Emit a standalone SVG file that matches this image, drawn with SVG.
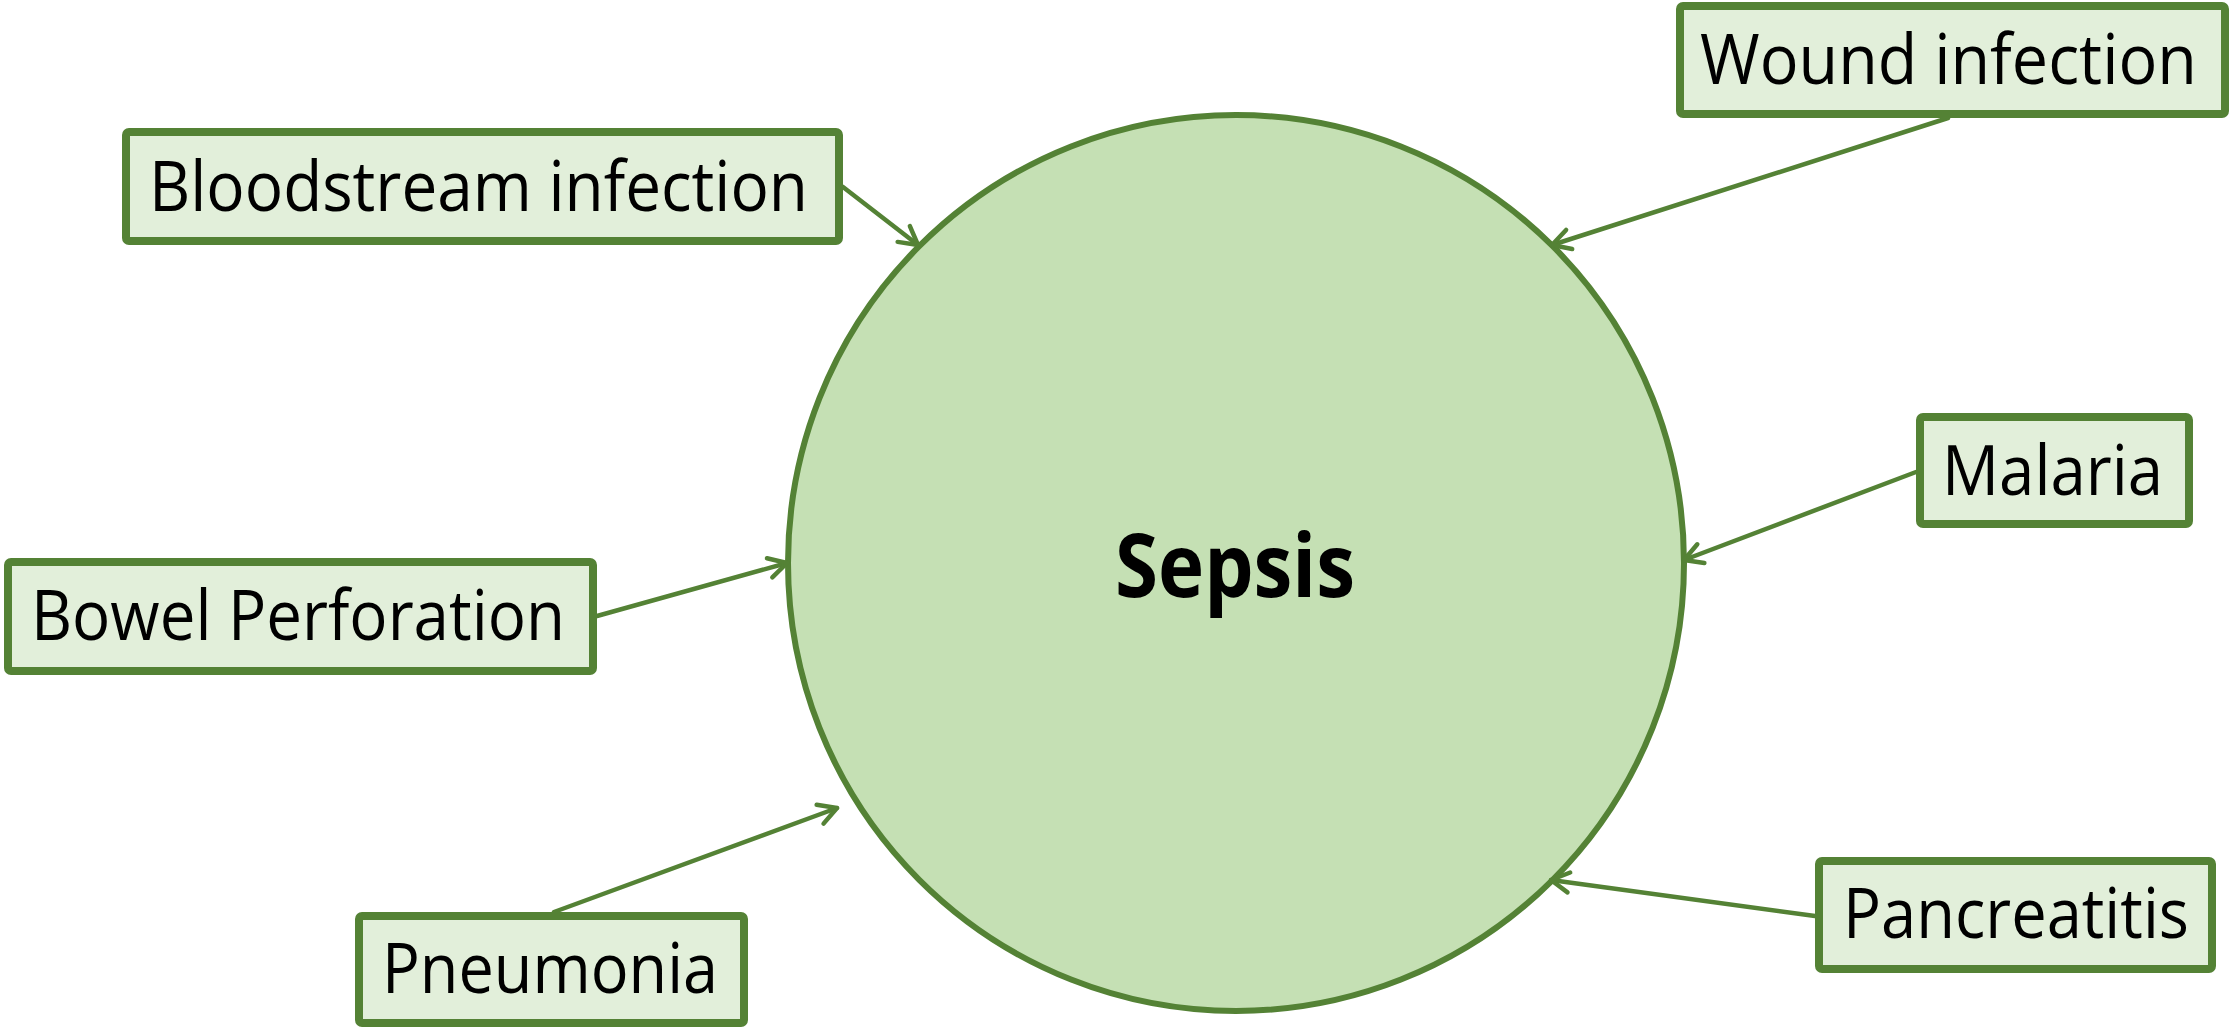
<svg xmlns="http://www.w3.org/2000/svg" width="2231" height="1028" viewBox="0 0 2231 1028">
<style>
.box{fill:#E2EFDA;stroke:#548235;stroke-width:8}
.lbl{font-family:"Open Sans","Noto Sans",sans-serif;font-size:70px;fill:#000}
.conn{stroke:#548235;stroke-width:4.5;fill:none;stroke-linecap:round}
.hub{fill:#C5E0B4;stroke:#548235;stroke-width:6}
.hubtxt{font-family:"Open Sans","Noto Sans",sans-serif;font-size:88px;font-weight:bold;fill:#000}
</style>
<defs>
<marker id="arr" markerUnits="userSpaceOnUse" markerWidth="26" markerHeight="26" refX="21" refY="12" orient="auto" overflow="visible">
<path d="M3,2 L21,12 L3,22" fill="none" stroke="#548235" stroke-width="4.5" stroke-linecap="round" stroke-linejoin="round"/>
</marker>
</defs>
<rect width="2231" height="1028" fill="#fff"/>
<g id="sepsis">
<circle class="hub" cx="1236" cy="563" r="448"/>
<text class="hubtxt" x="1115" y="597" textLength="240" lengthAdjust="spacingAndGlyphs">Sepsis</text>
</g>
<g id="connectors">
<line class="conn" x1="843" y1="187" x2="918" y2="245" marker-end="url(#arr)"/>
<line class="conn" x1="1948" y1="118" x2="1552" y2="245" marker-end="url(#arr)"/>
<line class="conn" x1="1916" y1="472" x2="1684" y2="560" marker-end="url(#arr)"/>
<line class="conn" x1="597" y1="616" x2="787" y2="563" marker-end="url(#arr)"/>
<line class="conn" x1="554" y1="912" x2="837" y2="808" marker-end="url(#arr)"/>
<line class="conn" x1="1815" y1="916" x2="1551" y2="880" marker-end="url(#arr)"/>
</g>
<g id="bloodstream">
<rect class="box" x="126" y="132" width="713" height="109" rx="3"/>
<text class="lbl" x="149" y="211" textLength="659" lengthAdjust="spacingAndGlyphs">Bloodstream infection</text>
</g>
<g id="wound">
<rect class="box" x="1680" y="6" width="545" height="108" rx="3"/>
<text class="lbl" x="1700" y="84" textLength="497" lengthAdjust="spacingAndGlyphs">Wound infection</text>
</g>
<g id="malaria">
<rect class="box" x="1920" y="417" width="269" height="107" rx="3"/>
<text class="lbl" x="1942" y="495" textLength="221" lengthAdjust="spacingAndGlyphs">Malaria</text>
</g>
<g id="bowel">
<rect class="box" x="8" y="562" width="585" height="109" rx="3"/>
<text class="lbl" x="31" y="640" textLength="534" lengthAdjust="spacingAndGlyphs">Bowel Perforation</text>
</g>
<g id="pneumonia">
<rect class="box" x="359" y="916" width="385" height="107" rx="3"/>
<text class="lbl" x="382" y="993" textLength="336" lengthAdjust="spacingAndGlyphs">Pneumonia</text>
</g>
<g id="pancreatitis">
<rect class="box" x="1819" y="861" width="393" height="108" rx="3"/>
<text class="lbl" x="1843" y="938" textLength="346" lengthAdjust="spacingAndGlyphs">Pancreatitis</text>
</g>
</svg>
